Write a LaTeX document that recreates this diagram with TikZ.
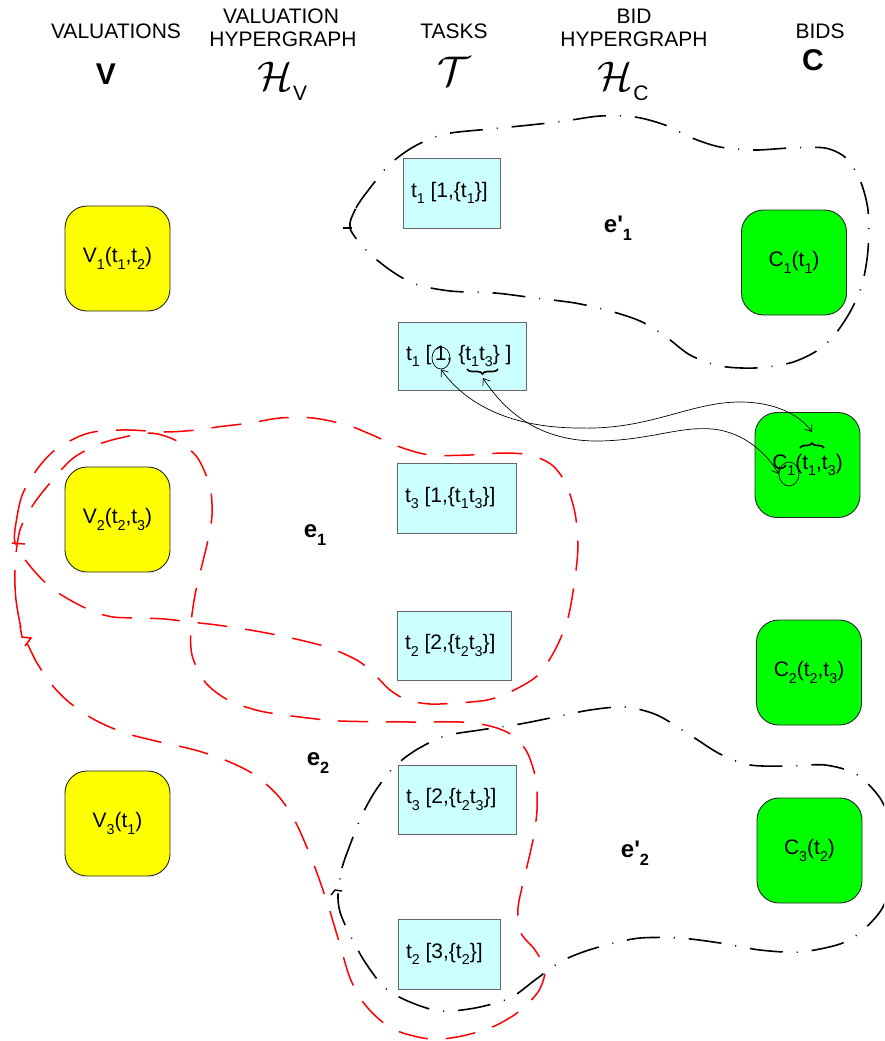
\documentclass[tikz,border=0pt]{standalone}
\usepackage{fontspec}
\setmainfont{Liberation Sans}
\usepackage{graphicx}
\usetikzlibrary{shapes.geometric,decorations.pathreplacing,arrows.meta}

\definecolor{valyellow}{HTML}{FFFF00}
\definecolor{bidgreen}{HTML}{00FF00}
\definecolor{taskcyan}{HTML}{CCFFFF}
\definecolor{hyperred}{HTML}{FF0000}

% lowered, smaller index as in t_1, V_2 ...
\newcommand\lo[1]{\raisebox{-0.32em}{\scalebox{0.68}{#1}}}
% left-aligned task text of fixed width
\newcommand\tasktext[2]{\makebox[#1pt][l]{#2}}

\begin{document}
\begin{tikzpicture}[x=1pt,y=-1pt,
  every node/.style={font=\fontsize{21}{24}\selectfont, inner sep=0pt},
  valbox/.style={draw=black!85, line width=0.9pt, fill=valyellow,
    rounded corners=22pt, minimum width=105pt, minimum height=105pt},
  bidbox/.style={draw=black!85, line width=0.9pt, fill=bidgreen,
    rounded corners=22pt, minimum width=105pt, minimum height=105pt},
  taskbox/.style={draw=black!60, line width=0.9pt, fill=taskcyan,
    inner xsep=8pt, minimum height=#1},
  bigletter/.style={font=\fontsize{30}{30}\selectfont\bfseries},
  elabel/.style={font=\fontsize{24}{26}\selectfont\bfseries},
  hedge/.style={draw=hyperred, line width=1.5pt, dash pattern=on 30pt off 18pt},
  bedge/.style={draw=black, line width=1.6pt, dash pattern=on 33pt off 14pt on 1pt off 14pt},
  ringmark/.style={draw=black, line width=0.7pt, ellipse},
  link/.style={draw=black, line width=0.7pt,
    {Straight Barb[length=6pt,width=9pt]}-{Straight Barb[length=6pt,width=9pt]}},
  brc/.style={decorate, decoration={brace, amplitude=5pt}, line width=1.6pt},
]
\useasboundingbox (0,0) rectangle (884,1041);
\clip (0,0) rectangle (884,1041);

% ---- column headings
\node (hval)  at (116,31) {VALUATIONS};
\node[bigletter] (hvalV) at (106,74) {V};
\node (hvh1) at (281,16) {VALUATION};
\node (hvh2) at (283,39) {HYPERGRAPH};
\node (hvhH) at (275,76) {\scalebox{2.0}{$\mathcal{H}$}};
\node (hvhV) at (300,93) {V};
\node (htask) at (454,31) {TASKS};
\node (htaskT) at (454,71) {\scalebox{2.0}{$\mathcal{T}$}};
\node (hbh1) at (634,16) {BID};
\node (hbh2) at (634,39) {HYPERGRAPH};
\node (hbhH) at (615,76) {\scalebox{2.0}{$\mathcal{H}$}};
\node (hbhC) at (641,93) {C};
\node (hbid) at (820,31) {BIDS};
\node[bigletter] (hbidC) at (813,60) {C};

% ---- hyperedges
% e1
\draw[hedge] plot[smooth cycle] coordinates {
  (15,543) (17,517) (23,493) (38,468) (55,450) (80,436) (100,431) (130,430)
  (165,432) (197,430) (217,427) (250,423) (280,418) (313,418) (347,425)
  (370,434) (400,447) (430,455) (470,455) (503,453) (530,455) (552,465)
  (566,484) (575,513) (578,545) (575,578) (568,618) (555,650) (537,676)
  (510,692) (487,700) (457,703) (430,704) (407,700) (390,690) (375,675)
  (360,662) (340,652) (320,645) (300,640) (277,635) (250,630) (217,625)
  (190,622) (165,619) (140,618) (113,617) (92,611) (70,600) (50,587) (30,566)};
\draw[hyperred, line width=1.5pt] (12,543) -- (25,544);
% e2
\draw[hedge] plot[smooth cycle] coordinates {
  (23,637) (16,600) (15,565) (20,530) (33,505) (50,483) (72,459) (97,445)
  (120,438) (150,433) (175,440) (197,457) (210,487) (212,515) (208,540)
  (202,565) (195,595) (191,625) (192,655) (205,682) (228,700) (260,711)
  (300,717) (340,721) (410,722) (460,722) (490,726) (512,735) (527,752)
  (536,780) (537,810) (533,840) (525,875) (518,908) (521,933) (535,950)
  (545,970) (538,992) (517,1013) (490,1028) (457,1037) (430,1039) (400,1032)
  (380,1020) (363,1002) (350,978) (340,945) (328,905) (314,865) (297,825)
  (280,798) (255,775) (225,760) (195,750) (160,742) (125,733) (95,720)
  (70,703) (52,685) (37,663) (28,645)};
\draw[hyperred, line width=1.5pt] (20,626) -- (22,637) -- (31,638) -- (25,646);
% e'1
\draw[bedge] plot[smooth cycle] coordinates {
  (350,228) (356,208) (370,188) (390,164) (415,146) (445,134) (490,129)
  (530,125) (565,121) (600,116) (635,117) (665,125) (692,138) (720,147)
  (755,150) (790,148) (825,148) (846,158) (860,180) (868,210) (868,250)
  (862,285) (850,312) (833,337) (815,352) (790,363) (755,368) (720,366)
  (690,355) (665,336) (640,321) (610,311) (575,303) (535,298) (495,293)
  (450,291) (415,284) (390,270) (366,250)};
\draw[black, line width=1.4pt] (343,228) -- (352,228);
% e'2
\draw[bedge] plot[smooth cycle] coordinates {
  (338,893) (342,868) (350,845) (362,815) (376,790) (394,767) (416,750)
  (445,736) (480,730) (520,724) (555,717) (590,710) (625,707) (657,715)
  (690,735) (720,754) (750,765) (790,766) (825,765) (856,774) (880,798)
  (893,830) (895,870) (883,907) (863,930) (840,944) (800,952) (760,950)
  (720,943) (680,938) (640,938) (610,944) (583,952) (560,962) (535,980)
  (510,998) (475,1008) (440,1011) (410,1002) (385,988) (365,962) (350,935)
  (340,912)};
\draw[black, line width=1.4pt] (331,895) -- (335,890) -- (342,891);

% ---- valuations
\node[valbox] (v1) at (117.5,258.5) {V\lo{1}(t\lo{1},t\lo{2})};
\node[valbox] (v2) at (117.5,519.5) {V\lo{2}(t\lo{2},t\lo{3})};
\node[valbox] (v3) at (117.5,823.5) {V\lo{3}(t\lo{1})};

% ---- tasks
\node[taskbox=70pt] (ta) at (451.5,193) {\tasktext{81}{t\lo{1} [1,\{t\lo{1}\}]}};
\node[taskbox=68pt] (tb) at (462,356) {\tasktext{112}{t\lo{1} [\,1, \{t\lo{1}t\lo{3}\} ]}};
\node[taskbox=70pt] (tc) at (456.5,498) {\tasktext{103}{t\lo{3} [1,\{t\lo{1}t\lo{3}\}]}};
\node[taskbox=69pt] (td) at (454,645.5) {\tasktext{98}{t\lo{2} [2,\{t\lo{2}t\lo{3}\}]}};
\node[taskbox=69pt] (te) at (457,799.5) {\tasktext{102}{t\lo{3} [2,\{t\lo{2}t\lo{3}\}]}};
\node[taskbox=70pt] (tf) at (449,954) {\tasktext{86}{t\lo{2} [3,\{t\lo{2}\}]}};

% ---- bids
\node[bidbox] (c1) at (794,262.5) {C\lo{1}(t\lo{1})};
\node[bidbox] (c13) at (807.5,465) {C\lo{1}(t\lo{1},t\lo{3})};
\node[bidbox] (c23) at (809,672.5) {C\lo{2}(t\lo{2},t\lo{3})};
\node[bidbox] (c3) at (809.5,850.5) {C\lo{3}(t\lo{2})};

% ---- hyperedge labels
\node[elabel] (le1p) at (618,228) {e\textquotesingle\lo{1}};
\node[elabel] (le1) at (315,535) {e\lo{1}};
\node[elabel] (le2) at (318,763) {e\lo{2}};
\node[elabel] (le2p) at (635,853) {e\textquotesingle\lo{2}};

% ---- marks linking the amount and the task set of t1 with bid C1(t1,t3)
\node[ringmark, minimum width=18pt, minimum height=22pt] (oneT) at (441,358) {};
\draw[brc] (498,369) -- (467,369);
\coordinate (braceT) at (483,378);
\node[ringmark, minimum width=20pt, minimum height=24pt] (oneC) at (789,474) {};
\draw[brc] (800,448) -- (824,448);
\coordinate (braceC) at (812,432);

\draw[link] (oneT.south) .. controls (470,410) and (520,428) .. (580,428)
  .. controls (650,430) and (690,402) .. (740,402)
  .. controls (775,402) and (800,415) .. (braceC);
\draw[link] (braceT) .. controls (505,412) and (540,442) .. (600,441)
  .. controls (650,440) and (680,426) .. (712,429)
  .. controls (745,432) and (768,455) .. (oneC.west);
\end{tikzpicture}
\end{document}
